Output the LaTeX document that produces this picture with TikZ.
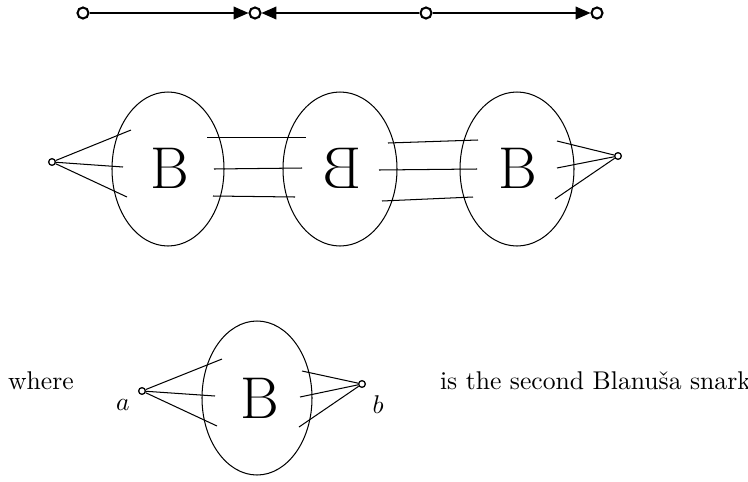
\documentclass[tikz,border=0pt]{standalone}
\usepackage{tikz}
\usetikzlibrary{arrows.meta}

\begin{document}
\begin{tikzpicture}[x=0.39pt, y=-0.39pt, every node/.style={font=\normalsize},
	bigdot/.style={draw, circle, line width=0.8pt, inner sep=0pt, minimum size=4.3pt},
	smalldot/.style={draw, circle, line width=0.5pt, inner sep=0pt, minimum size=2.6pt},
	blob/.style={font=\fontsize{23}{25}\selectfont}, >={Triangle[length=5.8pt, width=5pt]}]
	\useasboundingbox (0,0) rectangle (748,481);
	% top path
	\node[bigdot] (t1) at (83,13) {};
	\node[bigdot] (t2) at (255,13) {};
	\node[bigdot] (t3) at (426,13) {};
	\node[bigdot] (t4) at (597,13) {};
	\draw[->] (t1) -- (t2);
	\draw[->] (t3) -- (t2);
	\draw[->] (t3) -- (t4);
	% chain of three copies
	\draw (168,169) ellipse [x radius=56, y radius=77];
	\draw (340,169) ellipse [x radius=57, y radius=77];
	\draw (517,169) ellipse [x radius=57, y radius=77];
	\node[blob] (B1) at (170,168) {B};
	\node[blob] (B2) at (342,168) {\reflectbox{B}};
	\node[blob] (B3) at (518,168) {B};
	\node[smalldot] (u) at (52,162) {};
	\node[smalldot] (v) at (618,156) {};
	\draw (u) -- (131,130);
	\draw (u) -- (123,167);
	\draw (u) -- (127,197);
	\draw (207,137.4) -- (306,137.4);
	\draw (214,169) -- (302,168);
	\draw (213,196) -- (295,197);
	\draw (388,143) -- (478,140);
	\draw (379,170) -- (477,169);
	\draw (382,201) -- (473,197);
	\draw (v) -- (557,141);
	\draw (v) -- (557,168);
	\draw (v) -- (555,199);
	% legend
	\node (where) at (41,381) {where};
	\draw (257,398) ellipse [x radius=55, y radius=77];
	\node[blob] (B) at (260,398) {B};
	\node[smalldot] (a) at (142,391) {};
	\node[smalldot] (b) at (362,384) {};
	\node (la) at (123,405) {$a$};
	\node (lb) at (378,405) {$b$};
	\draw (a) -- (222,359);
	\draw (a) -- (215,396);
	\draw (a) -- (217,426);
	\draw (b) -- (302,371);
	\draw (b) -- (300,397);
	\draw (b) -- (299,427);
	\node[anchor=west] (snark) at (431,381) {is the second Blanu\v{s}a snark};
\end{tikzpicture}
\end{document}
